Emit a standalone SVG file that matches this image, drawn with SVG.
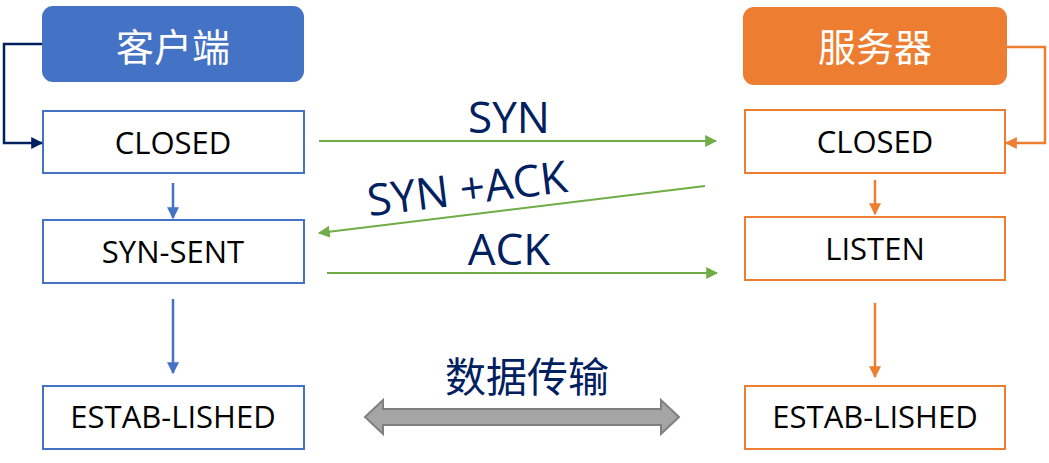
<svg xmlns="http://www.w3.org/2000/svg" width="1049" height="463" viewBox="0 0 1049 463">
<defs>
<style>
.hdr{font-family:"Noto Sans CJK SC","Noto Sans",sans-serif;font-size:38px;fill:#fff;text-anchor:middle}
.lbl{font-family:"Open Sans","Noto Sans",sans-serif;font-size:31px;fill:#000;text-anchor:middle}
.msg{font-family:"Open Sans","Noto Sans",sans-serif;font-size:44px;fill:#002060;text-anchor:middle}
.cjk{font-family:"Noto Sans CJK SC",sans-serif;font-size:41px;fill:#002060;text-anchor:middle}
.cbox{fill:#fff;stroke:#4472C4;stroke-width:2}
.sbox{fill:#fff;stroke:#ED7D31;stroke-width:2}
</style>
<marker id="mB" viewBox="0 0 10 10" refX="9" refY="5" markerWidth="12" markerHeight="12" markerUnits="userSpaceOnUse" orient="auto"><path d="M0,0 L10,5 L0,10 z" fill="#4472C4"/></marker>
<marker id="mO" viewBox="0 0 10 10" refX="9" refY="5" markerWidth="12" markerHeight="12" markerUnits="userSpaceOnUse" orient="auto"><path d="M0,0 L10,5 L0,10 z" fill="#ED7D31"/></marker>
<marker id="mN" viewBox="0 0 10 10" refX="9" refY="5" markerWidth="12" markerHeight="12" markerUnits="userSpaceOnUse" orient="auto"><path d="M0,0 L10,5 L0,10 z" fill="#002060"/></marker>
<marker id="mG" viewBox="0 0 10 10" refX="9" refY="5" markerWidth="12" markerHeight="12" markerUnits="userSpaceOnUse" orient="auto"><path d="M0,0 L10,5 L0,10 z" fill="#70AD47"/></marker>
</defs>
<rect width="1049" height="463" fill="#fff"/>

<g id="client-header"><rect x="42" y="6" width="262" height="76" rx="11" fill="#4472C4"/><text class="hdr" x="173" y="61">客户端</text></g>
<g id="client-closed"><rect class="cbox" x="43" y="111" width="261" height="62"/><text class="lbl" x="173" y="154">CLOSED</text></g>
<g id="client-synsent"><rect class="cbox" x="43" y="220" width="261" height="63"/><text class="lbl" x="173" y="263">SYN-SENT</text></g>
<g id="client-established"><rect class="cbox" x="43" y="386" width="261" height="63"/><text class="lbl" x="173" y="428">ESTAB-LISHED</text></g>

<g id="server-header"><rect x="743" y="7" width="264" height="78" rx="11" fill="#ED7D31"/><text class="hdr" x="875" y="61">服务器</text></g>
<g id="server-closed"><rect class="sbox" x="745" y="110" width="260" height="63"/><text class="lbl" x="875" y="153">CLOSED</text></g>
<g id="server-listen"><rect class="sbox" x="745" y="217" width="260" height="63"/><text class="lbl" x="875" y="260">LISTEN</text></g>
<g id="server-established"><rect class="sbox" x="745" y="386" width="260" height="63"/><text class="lbl" x="875" y="428">ESTAB-LISHED</text></g>

<g id="connectors" fill="none">
<polyline points="42,44 4,44 4,143 42,143" stroke="#002060" stroke-width="2.5" marker-end="url(#mN)"/>
<polyline points="1007,47 1045,47 1045,143 1006,143" stroke="#ED7D31" stroke-width="2.5" marker-end="url(#mO)"/>
<line x1="173" y1="183" x2="173" y2="218" stroke="#4472C4" stroke-width="2.5" marker-end="url(#mB)"/>
<line x1="173" y1="299" x2="173" y2="373" stroke="#4472C4" stroke-width="2.5" marker-end="url(#mB)"/>
<line x1="875" y1="180" x2="875" y2="214" stroke="#ED7D31" stroke-width="2.5" marker-end="url(#mO)"/>
<line x1="875" y1="303" x2="875" y2="377" stroke="#ED7D31" stroke-width="2.5" marker-end="url(#mO)"/>
<line x1="319" y1="141" x2="716" y2="141" stroke="#70AD47" stroke-width="2" marker-end="url(#mG)"/>
<line x1="705" y1="186" x2="319" y2="233" stroke="#70AD47" stroke-width="2" marker-end="url(#mG)"/>
<line x1="327" y1="273" x2="717" y2="273" stroke="#70AD47" stroke-width="2" marker-end="url(#mG)"/>
<path d="M365,417 L383,400 L383,409 L661,409 L661,400 L679,417 L661,434 L661,425 L383,425 L383,434 Z" fill="#A5A5A5" stroke="#7F7F7F" stroke-width="2"/>
</g>

<g id="labels">
<text class="msg" x="509" y="133">SYN</text>
<text class="msg" x="469" y="204" transform="rotate(-7 469 204)">SYN +ACK</text>
<text class="msg" x="509" y="265">ACK</text>
<text class="cjk" x="527" y="392">数据传输</text>
</g>
</svg>
